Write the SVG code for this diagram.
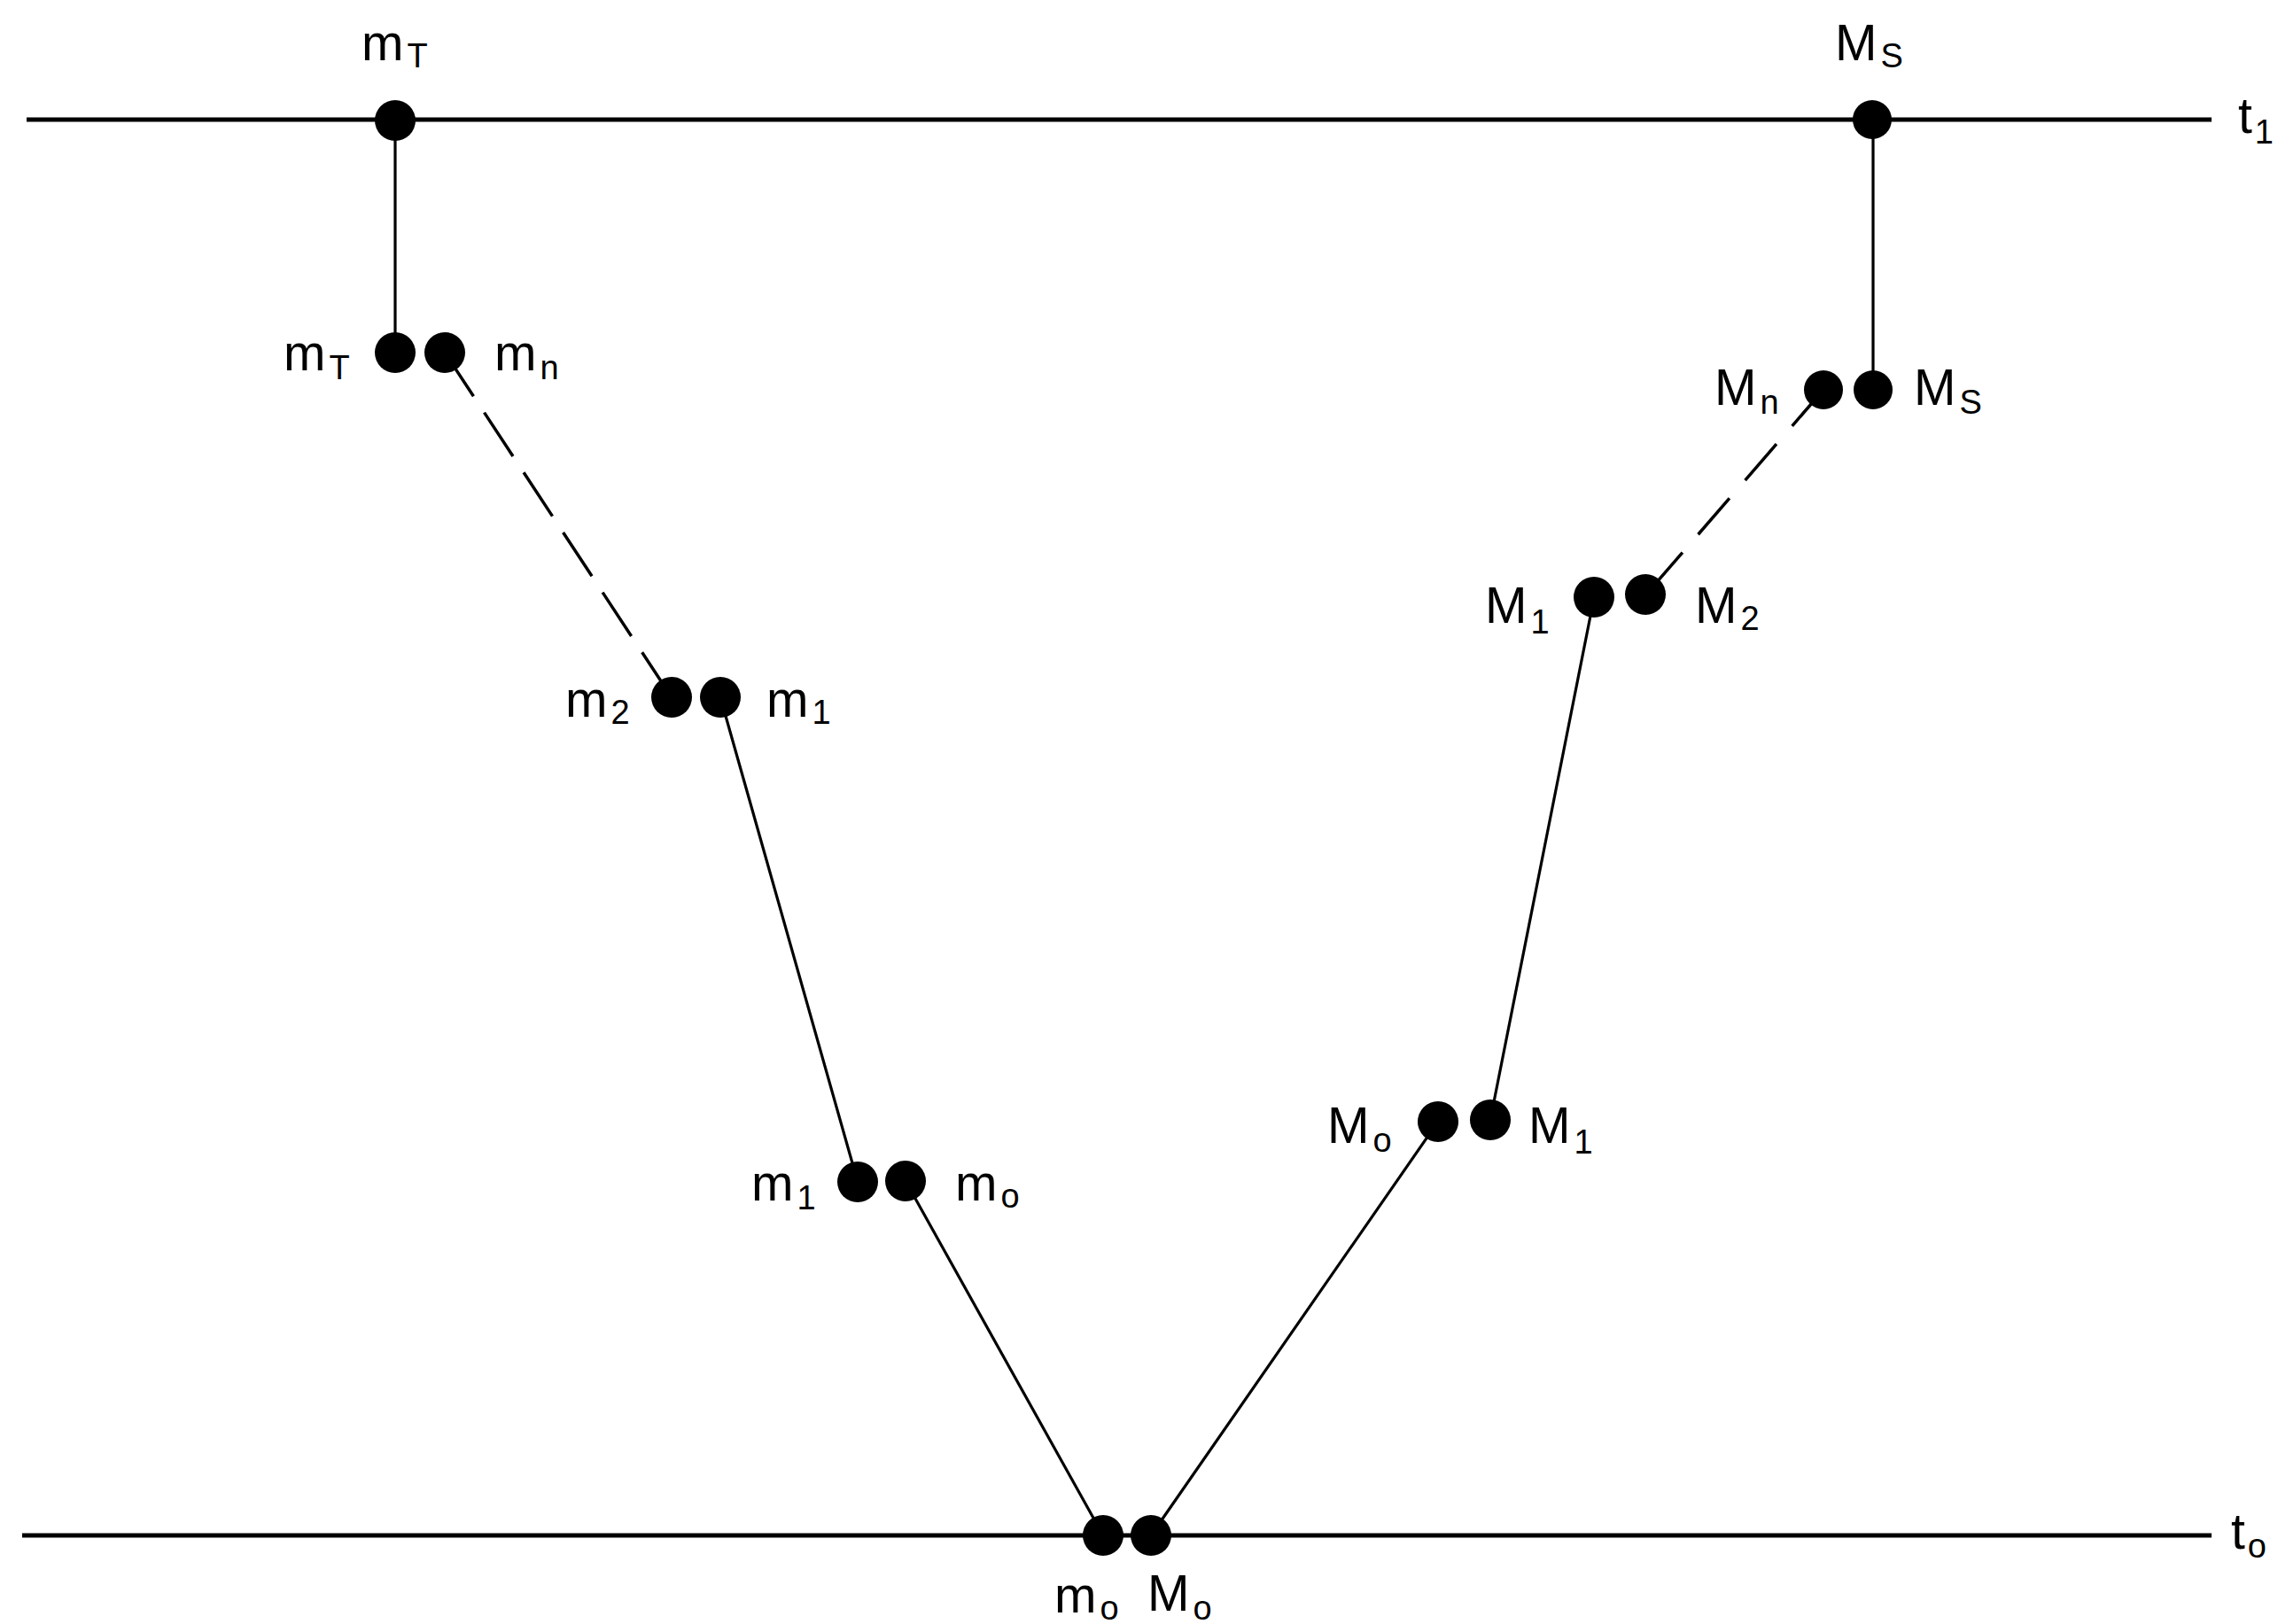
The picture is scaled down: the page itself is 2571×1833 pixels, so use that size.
<svg xmlns="http://www.w3.org/2000/svg" width="2571" height="1833" viewBox="0 0 2571 1833">
<style>
.axis{stroke:#000;stroke-width:5;fill:none}
.edge{stroke:#000;stroke-width:3.2;fill:none;stroke-linecap:round}
.dash{stroke:#000;stroke-width:3.5;fill:none;stroke-dasharray:59 22}
.dot{fill:#000}
text{font-family:"Liberation Sans",Arial,Helvetica,sans-serif;font-size:57px;fill:#000}
.sub{font-size:38px}
</style>
<rect width="2571" height="1833" fill="#fff"/>
<g id="connectors">
<line class="axis" x1="30" y1="135" x2="2496" y2="135"/>
<line class="axis" x1="25" y1="1733" x2="2496" y2="1733"/>
<line class="edge" x1="446" y1="135" x2="446" y2="398"/>
<line class="edge" x1="2114" y1="135" x2="2114" y2="440"/>
<line class="dash" x1="502" y1="398" x2="758" y2="787"/>
<line class="dash" style="stroke-dasharray:54 27" x1="2058" y1="440" x2="1857" y2="672"/>
<line class="edge" x1="813" y1="787" x2="968" y2="1334"/>
<line class="edge" x1="1022" y1="1333" x2="1245" y2="1733"/>
<line class="edge" x1="1799" y1="675" x2="1682" y2="1264"/>
<line class="edge" x1="1623" y1="1266" x2="1299" y2="1733"/>
</g>
<g id="axis-labels">
<text x="2526" y="150">t<tspan class="sub" dx="3" dy="12">1</tspan></text>
<text x="2518" y="1748">t<tspan class="sub" dx="3" dy="10">o</tspan></text>
</g>
<g id="node-mT-top"><circle class="dot" cx="446" cy="136" r="23"/><text x="408" y="68">m<tspan class="sub" dx="4" dy="8">T</tspan></text></g>
<g id="node-MS-top"><circle class="dot" cx="2113" cy="135" r="22"/><text x="2071" y="68">M<tspan class="sub" dx="4" dy="8">S</tspan></text></g>
<g id="node-mT"><circle class="dot" cx="446" cy="398" r="23"/><text x="320" y="418">m<tspan class="sub" dx="4" dy="10">T</tspan></text></g>
<g id="node-mn"><circle class="dot" cx="502" cy="398" r="23"/><text x="558" y="418">m<tspan class="sub" dx="4" dy="10">n</tspan></text></g>
<g id="node-Mn"><circle class="dot" cx="2058" cy="440" r="22"/><text x="1935" y="457">M<tspan class="sub" dx="4" dy="10">n</tspan></text></g>
<g id="node-MS"><circle class="dot" cx="2114" cy="440" r="22"/><text x="2160" y="457">M<tspan class="sub" dx="4" dy="10">S</tspan></text></g>
<g id="node-M1-upper"><circle class="dot" cx="1799" cy="674" r="23"/><text x="1676" y="703">M<tspan class="sub" dx="4" dy="12">1</tspan></text></g>
<g id="node-M2"><circle class="dot" cx="1857" cy="671" r="23"/><text x="1913" y="703">M<tspan class="sub" dx="4" dy="8">2</tspan></text></g>
<g id="node-m2"><circle class="dot" cx="758" cy="787" r="23"/><text x="638" y="809">m<tspan class="sub" dx="4" dy="8">2</tspan></text></g>
<g id="node-m1-upper"><circle class="dot" cx="813" cy="787" r="23"/><text x="865" y="809">m<tspan class="sub" dx="4" dy="8">1</tspan></text></g>
<g id="node-M0"><circle class="dot" cx="1623" cy="1266" r="23"/><text x="1498" y="1290">M<tspan class="sub" dx="4" dy="10">o</tspan></text></g>
<g id="node-M1-lower"><circle class="dot" cx="1682" cy="1264" r="23"/><text x="1725" y="1290">M<tspan class="sub" dx="4" dy="12">1</tspan></text></g>
<g id="node-m1-lower"><circle class="dot" cx="968" cy="1334" r="23"/><text x="848" y="1355">m<tspan class="sub" dx="4" dy="10">1</tspan></text></g>
<g id="node-m0"><circle class="dot" cx="1022" cy="1333" r="23"/><text x="1078" y="1355">m<tspan class="sub" dx="4" dy="8">o</tspan></text></g>
<g id="node-m0-bottom"><circle class="dot" cx="1245" cy="1733" r="23"/><text x="1190" y="1820">m<tspan class="sub" dx="4" dy="8">o</tspan></text></g>
<g id="node-M0-bottom"><circle class="dot" cx="1299" cy="1733" r="23"/><text x="1295" y="1818">M<tspan class="sub" dx="4" dy="10">o</tspan></text></g>
</svg>
